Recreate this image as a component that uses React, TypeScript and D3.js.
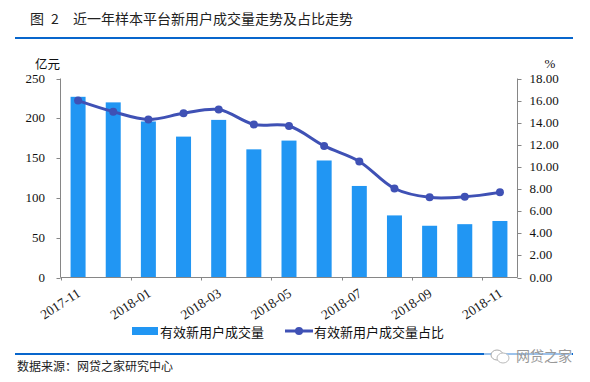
import React from "react";
import * as d3 from "d3";

const months = ["2017-11","2017-12","2018-01","2018-02","2018-03","2018-04","2018-05","2018-06","2018-07","2018-08","2018-09","2018-10","2018-11"];
const volume = [227,220,196,177,198,161,172,147,115,78,65,67,71];
const share = [16.0,15.0,14.3,14.85,15.2,13.85,13.7,11.9,10.5,8.05,7.25,7.3,7.7];
const leftTicks = [0,50,100,150,200,250];
const rightTicks = [0,2,4,6,8,10,12,14,16,18];
const xLabels = ["2017-11","2018-01","2018-03","2018-05","2018-07","2018-09","2018-11"];

const CJK = '"Noto Sans CJK SC", sans-serif';
const SERIF = '"Liberation Serif", serif';
const BAR = "#2196f3";
const LINE = "#3f51b5";
const RULE = "#0866cc";
const AXIS = "#868686";

export default function App() {
  const L = 60.5, R = 517.5, T = 78.5, B = 277.5;
  const x = d3.scaleBand<string>().domain(months).range([L, R]);
  const yL = d3.scaleLinear().domain([0, 250]).range([B, T]);
  const yR = d3.scaleLinear().domain([0, 18]).range([B, T]);
  const cx = (m: string) => x(m)! + x.bandwidth() / 2;
  const path = d3.line<number>().x((_, i) => cx(months[i])).y(d => yR(d)).curve(d3.curveCatmullRom.alpha(0.5))(share)!;
  return (
    <svg width={590} height={382} style={{ position: "fixed", left: 0, top: 0, background: "#fff" }}>
      <text x={30} y={24} fontFamily={CJK} fontSize={14} fill="#222">图</text>
      <text x={51} y={24} fontFamily={CJK} fontSize={14} fill="#222">2</text>
      <text x={73} y={24} fontFamily={CJK} fontSize={14} fill="#222">近一年样本平台新用户成交量走势及占比走势</text>
      <rect x={15} y={37} width={558} height={2} fill={RULE} />

      <text x={35} y={69} fontFamily={CJK} fontSize={12.5} fill="#111">亿元</text>
      <text x={550} y={68} textAnchor="middle" fontFamily={SERIF} fontSize={13} fill="#111">%</text>

      {months.map((m, i) => (
        <rect key={m} x={cx(m) - 7.5} width={15} y={yL(volume[i])} height={B - yL(volume[i])} fill={BAR} />
      ))}

      <line x1={L} x2={L} y1={T} y2={B} stroke={AXIS} />
      <line x1={R} x2={R} y1={T} y2={B} stroke={AXIS} />
      <line x1={L} x2={R} y1={B} y2={B} stroke={AXIS} />
      {leftTicks.map(t => (
        <g key={t}>
          <line x1={L - 4} x2={L} y1={Math.round(yL(t)) + 0.5} y2={Math.round(yL(t)) + 0.5} stroke={AXIS} />
          <text x={45} y={yL(t) + 4} textAnchor="end" fontFamily={SERIF} fontSize={13} fill="#111">{t}</text>
        </g>
      ))}
      {rightTicks.map(t => (
        <g key={t}>
          <line x1={R} x2={R + 4} y1={Math.round(yR(t)) + 0.5} y2={Math.round(yR(t)) + 0.5} stroke={AXIS} />
          <text x={529.5} y={yR(t) + 4} fontFamily={SERIF} fontSize={13} fill="#111">{t.toFixed(2)}</text>
        </g>
      ))}
      {xLabels.map((lab, i) => {
        const tx = L + x.step() * 2 * i;
        return (
          <g key={lab}>
            <line x1={Math.round(tx) + 0.5} x2={Math.round(tx) + 0.5} y1={B} y2={B + 3} stroke={AXIS} />
            <text transform={`translate(${tx + 21},${B + 18}) rotate(-33)`} textAnchor="end" fontFamily={SERIF} fontSize={13.5} fill="#222">{lab}</text>
          </g>
        );
      })}

      <path d={path} fill="none" stroke={LINE} strokeWidth={3} />
      {months.map((m, i) => (
        <circle key={m} cx={cx(m)} cy={yR(share[i])} r={4} fill={LINE} />
      ))}

      <rect x={132} y={327} width={26} height={8} fill={BAR} />
      <text x={160} y={337} fontFamily={CJK} fontSize={13} fill="#111">有效新用户成交量</text>
      <line x1={285} x2={313} y1={331} y2={331} stroke={LINE} strokeWidth={3} />
      <circle cx={299} cy={331} r={4} fill={LINE} />
      <text x={314} y={337} fontFamily={CJK} fontSize={13} fill="#111">有效新用户成交量占比</text>

      <rect x={15} y={353} width={558} height={2} fill={RULE} />
      <text x={17} y={371} fontFamily={CJK} fontSize={12} fill="#222">数据来源：网贷之家研究中心</text>
      <g>
        <rect x={484} y={346} width={88} height={20} fill="#fff" opacity={0.6} />
        <ellipse cx={497} cy={355} rx={6} ry={5} fill="#fff" stroke="#aaa" strokeWidth={1} />
        <ellipse cx={503} cy={358} rx={6} ry={5} fill="#fff" stroke="#bbb" strokeWidth={1} />
        <text x={516} y={361} fontFamily={CJK} fontSize={14} fill="#999">网贷之家</text>
      </g>
    </svg>
  );
}
